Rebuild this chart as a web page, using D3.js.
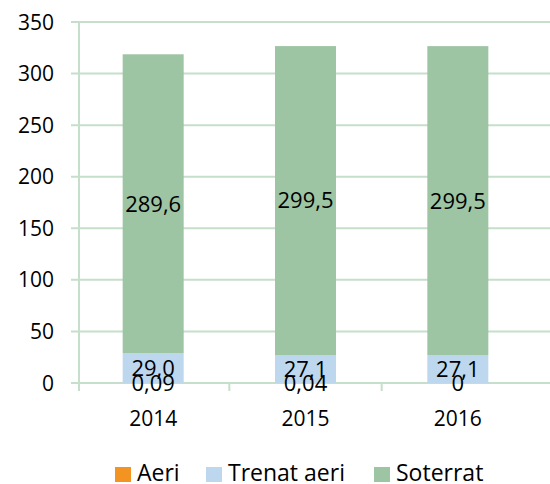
<!DOCTYPE html>
<html>
<head>
<meta charset="utf-8">
<script src="https://cdn.jsdelivr.net/npm/d3@7"></script>
<style>
  body { margin: 0; background: #fff; }
  text { font-family: "Open Sans", sans-serif; fill: #000; }
</style>
</head>
<body>
<script>
var years = ["2014", "2015", "2016"];
var seriesNames = ["Aeri", "Trenat aeri", "Soterrat"];
var seriesColors = ["#f39422", "#bdd7ee", "#9dc4a3"];
var aeri = [0.09, 0.04, 0];
var trenat = [29.0, 27.1, 27.1];
var soterrat = [289.6, 299.5, 299.5];
var aeriLabels = ["0,09", "0,04", "0"];
var trenatLabels = ["29,0", "27,1", "27,1"];
var soterratLabels = ["289,6", "299,5", "299,5"];
var yTicks = [0, 50, 100, 150, 200, 250, 300, 350];

var width = 550, height = 484;
var gridColor = "#c6dfca";

var svg = d3.select("body").append("svg")
  .attr("width", width)
  .attr("height", height);

var x = d3.scaleBand().domain(years).range([77, 534]).paddingInner(0).paddingOuter(0);
var y = d3.scaleLinear().domain([0, 350]).range([383, 22]);

// gridlines + y ticks
svg.append("g").selectAll("line")
  .data(yTicks)
  .enter().append("line")
  .attr("x1", 71).attr("x2", width)
  .attr("y1", d => y(d)).attr("y2", d => y(d))
  .style("stroke", gridColor)
  .style("stroke-width", 2);

svg.append("g").selectAll("text")
  .data(yTicks)
  .enter().append("text")
  .attr("x", 54)
  .attr("y", d => y(d))
  .attr("dy", "0.36em")
  .attr("text-anchor", "end")
  .style("font-size", "21px")
  .text(d => d);

// vertical axis line
svg.append("line")
  .attr("x1", 79).attr("x2", 79)
  .attr("y1", y(350)).attr("y2", 391)
  .style("stroke", gridColor).style("stroke-width", 2);

// category tick marks
svg.append("g").selectAll("line")
  .data(years.slice(1))
  .enter().append("line")
  .attr("x1", d => x(d)).attr("x2", d => x(d))
  .attr("y1", y(0)).attr("y2", 391)
  .style("stroke", gridColor).style("stroke-width", 2);

// stacked data
var table = years.map(function(yr, i) {
  return { year: yr, aeri: aeri[i], trenat: trenat[i], soterrat: soterrat[i] };
});
var keys = ["aeri", "trenat", "soterrat"];
var labelSets = { aeri: aeriLabels, trenat: trenatLabels, soterrat: soterratLabels };
var stack = d3.stack().keys(keys)(table);

var barW = 61;

var layers = svg.append("g").selectAll("g")
  .data(stack)
  .enter().append("g")
  .style("fill", (d, i) => seriesColors[i]);

layers.selectAll("rect")
  .data(d => d)
  .enter().append("rect")
  .attr("x", d => x(d.data.year) + x.bandwidth() / 2 - barW / 2)
  .attr("width", barW)
  .attr("y", d => y(d[1]))
  .attr("height", d => y(d[0]) - y(d[1]));

// data labels, centred in each segment
stack.forEach(function(layer) {
  var labs = labelSets[layer.key];
  svg.append("g").selectAll("text")
    .data(layer)
    .enter().append("text")
    .attr("x", d => x(d.data.year) + x.bandwidth() / 2)
    .attr("y", d => y((d[0] + d[1]) / 2))
    .attr("dy", "0.36em")
    .attr("text-anchor", "middle")
    .style("font-size", "22px")
    .text((d, i) => labs[i]);
});

// year labels
svg.append("g").selectAll("text")
  .data(years)
  .enter().append("text")
  .attr("x", d => x(d) + x.bandwidth() / 2)
  .attr("y", 426)
  .attr("text-anchor", "middle")
  .style("font-size", "21px")
  .text(d => d);

// legend
var legendX = [115, 206, 374];
var leg = svg.append("g").selectAll("g")
  .data(seriesNames)
  .enter().append("g")
  .attr("transform", (d, i) => "translate(" + legendX[i] + ",467)");
leg.append("rect")
  .attr("width", 16).attr("height", 15)
  .style("fill", (d, i) => seriesColors[i]);
leg.append("text")
  .attr("x", 22).attr("y", 14)
  .style("font-size", "23px")
  .text(d => d);
</script>
</body>
</html>
